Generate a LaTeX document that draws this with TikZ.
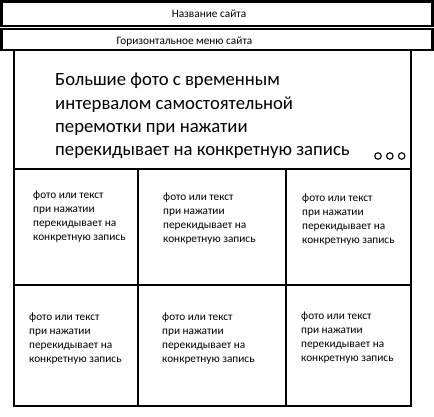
\documentclass[tikz,border=0pt]{standalone}
\usepackage{fontspec}
\setmainfont{Carlito}
\usetikzlibrary{positioning}

\begin{document}
\begin{tikzpicture}[x=1pt,y=-1pt,
  box/.style={draw,line width=2.5pt,inner sep=0pt},
  bartext/.style={font=\fontsize{11.3}{13}\selectfont,inner sep=0pt},
  celltext/.style={font=\fontsize{11.3}{14}\selectfont,align=left,anchor=north west,inner sep=0pt},
  bigtext/.style={font=\fontsize{18.7}{23.3}\selectfont,align=left,anchor=north west,inner sep=0pt},
  dot/.style={circle,draw,line width=1.1pt,minimum size=6.5pt,inner sep=0pt}]
  \useasboundingbox (0,0) rectangle (434,416);
  \node(title) [box,minimum width=431pt,minimum height=24.5pt] at (217,13.75) {};
  \node(menu) [box,minimum width=431pt,minimum height=21pt] at (217,39.5) {};
  \node(big) [box,minimum width=397pt,minimum height=119pt] at (212.5,109.5) {};
  \node(c11) [box,minimum width=124pt,minimum height=116pt] at (76,227) {};
  \node(c12) [box,minimum width=148pt,minimum height=116pt] at (212,227) {};
  \node(c13) [box,minimum width=125pt,minimum height=116pt] at (348.5,227) {};
  \node(c21) [box,minimum width=124pt,minimum height=121pt] at (76,345.5) {};
  \node(c22) [box,minimum width=148pt,minimum height=121pt] at (212,345.5) {};
  \node(c23) [box,minimum width=125pt,minimum height=121pt] at (348.5,345.5) {};
  \node(titlelabel) [bartext] at (209,14) {Название сайта};
  \node(menulabel) [bartext] at (184.5,41.5) {Горизонтальное меню сайта};
  \node(biglabel) [bigtext] at (55,73) {Большие фото с временным\\интервалом самостоятельной\\перемотки при нажатии\\перекидывает на конкретную запись};
  \node(d1) [dot] at (378,156) {};
  \node(d2) [dot,right=4.25pt of d1] {};
  \node(d3) [dot,right=4.25pt of d2] {};
  \node(t11) [celltext] at (33,191) {фото или текст\\при нажатии\\перекидывает на\\конкретную запись};
  \node(t12) [celltext] at (163,193) {фото или текст\\при нажатии\\перекидывает на\\конкретную запись};
  \node(t13) [celltext] at (302,194) {фото или текст\\при нажатии\\перекидывает на\\конкретную запись};
  \node(t21) [celltext] at (29,313) {фото или текст\\при нажатии\\перекидывает на\\конкретную запись};
  \node(t22) [celltext] at (162,313) {фото или текст\\при нажатии\\перекидывает на\\конкретную запись};
  \node(t23) [celltext] at (301,312) {фото или текст\\при нажатии\\перекидывает на\\конкретную запись};
\end{tikzpicture}
\end{document}
